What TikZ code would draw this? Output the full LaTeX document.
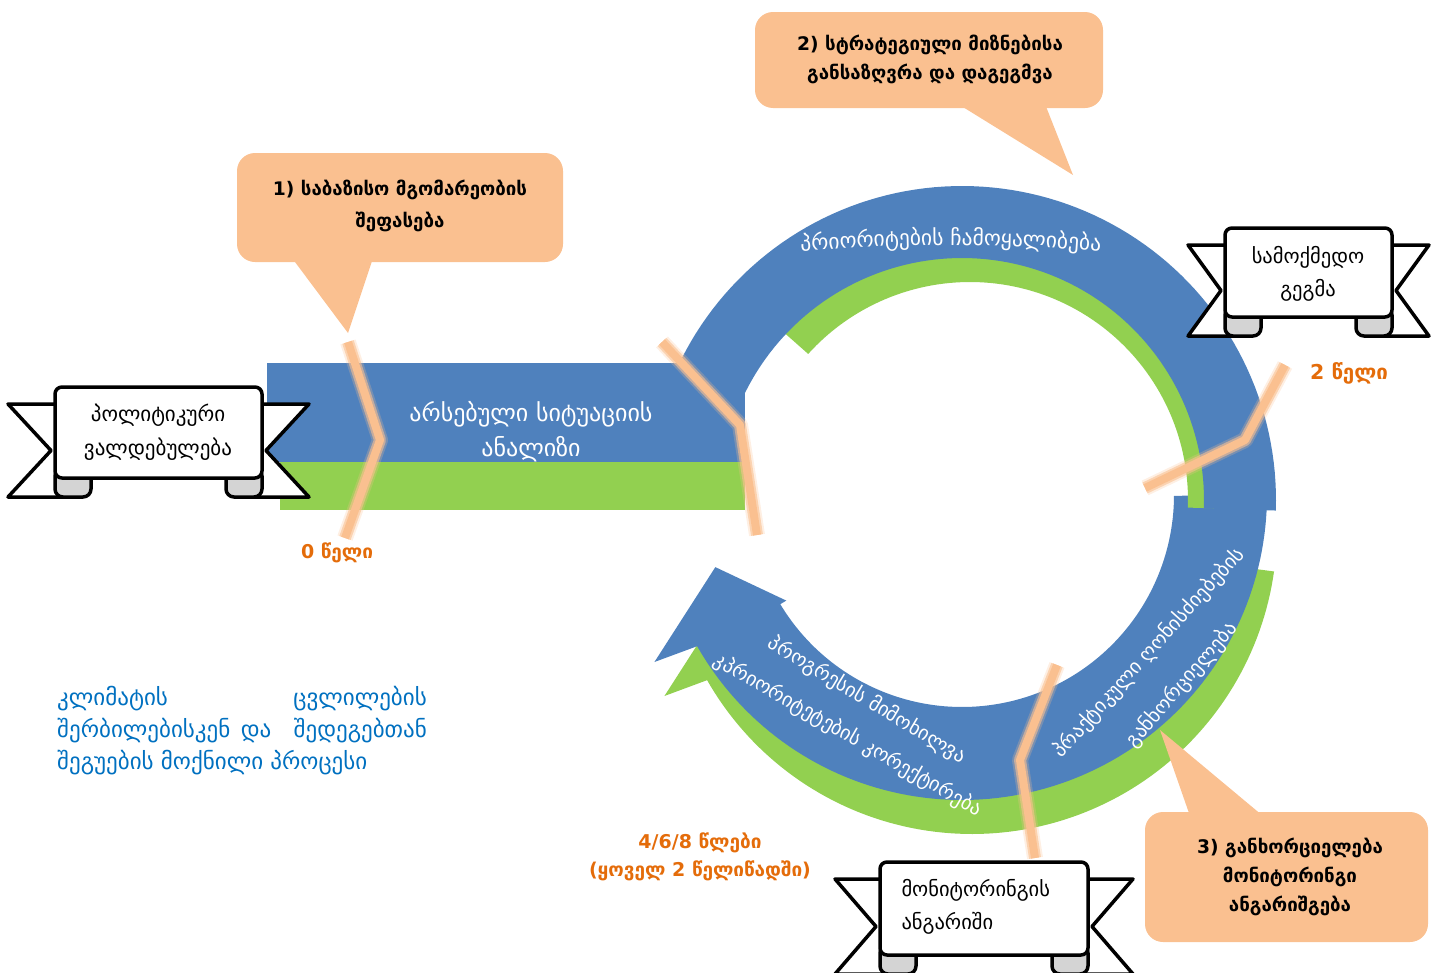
\documentclass[tikz,border=0pt]{standalone}
\usepackage{fontspec}
\setmainfont{DejaVu Sans}
\usetikzlibrary{decorations.text}
\definecolor{cblue}{HTML}{4F81BD}
\definecolor{cgreen}{HTML}{92D050}
\definecolor{cpeach}{HTML}{FAC090}
\definecolor{corange}{HTML}{E46C0A}
\definecolor{ctblue}{HTML}{0070C0}
\definecolor{cfold}{HTML}{D4D4D4}
\tikzset{
  peachline/.style={draw=cpeach, line width=8, line join=round,
    preaction={draw=cpeach, line width=12, opacity=0.6, line join=round},
    preaction={draw=cpeach, line width=16, opacity=0.25, line join=round}},
  callout/.style={fill=cpeach, rounded corners=18},
  ctext/.style={font=\fontsize{18.7}{29}\selectfont\bfseries, align=center, text=black},
  bantext/.style={font=\fontsize{20.5}{33}\selectfont, align=center, text=black},
  wtext/.style={font=\fontsize{24}{35}\selectfont, text=white, align=center},
  arctext/.style={font=\fontsize{20}{20}\selectfont, text=white, inner sep=0},
  otext/.style={font=\fontsize{19}{28}\selectfont\bfseries, text=corange, align=center},
  ptext/.style={font=\fontsize{23}{23}\selectfont, text=ctblue, inner sep=0},
  bandline/.style={draw=black, line width=3.5, line join=round},
}
% x y W H tail
\newcommand\bannershape[5]{%
  \begin{scope}[shift={(#1,#2)}]
    \filldraw[bandline, fill=white] (-#5,17) -- (20,17) -- (20,#4+19) -- (-#5,#4+19) -- (-4,{(36+#4)/2}) -- cycle;
    \filldraw[bandline, fill=white] (#3+#5,17) -- (#3-20,17) -- (#3-20,#4+19) -- (#3+#5,#4+19) -- (#3+4,{(36+#4)/2}) -- cycle;
    \filldraw[bandline, fill=cfold, rounded corners=8] (0,#4-10) rectangle (36,#4+19);
    \filldraw[bandline, fill=cfold, rounded corners=8] (#3-36,#4-10) rectangle (#3,#4+19);
    \filldraw[bandline, fill=white, rounded corners=7] (0,0) rectangle (#3,#4);
  \end{scope}}
% lower arrow: centre (962,495), radii 212/305, start angle #1
\newcommand\lowerarrow[1]{plot[domain=0:1,samples=100] ({962+305*cos(#1+(150.5-#1)*\x)},{495+305*sin(#1+(150.5-#1)*\x)}) -- ({962+350*cos(151.5)},{495+350*sin(151.5)}) -- ({962+257*cos(163.7)},{495+257*sin(163.7)}) -- ({962+205*cos(149)},{495+205*sin(149)}) -- plot[domain=0:1,samples=100] ({962+212*cos(149-(149-#1)*\x)},{495+212*sin(149-(149-#1)*\x)}) -- cycle}
\begin{document}
\begin{tikzpicture}[x=1pt,y=-1pt]
\useasboundingbox (0,0) rectangle (1435,972);
% horizontal bar
\fill[cgreen] (280,462) rectangle (745,510);
\fill[cblue] (267,363) rectangle (745,462);
% lower arrow
\fill[cgreen, shift={(10,34)}] \lowerarrow{8};
\fill[cblue] \lowerarrow{0};
% top arc
\fill[cgreen] plot[domain=0:1,samples=90] ({970+250*cos(222+140*\x)},{500+250*sin(222+140*\x)}) -- plot[domain=0:1,samples=90] ({970+218*cos(362-140*\x)},{500+218*sin(362-140*\x)}) -- cycle;
\fill[cblue] plot[domain=0:1,samples=90] ({962+314*cos(205+157*\x)},{500+314*sin(205+157*\x)}) -- plot[domain=0:1,samples=90] ({962+242*cos(362-157*\x)},{500+242*sin(362-157*\x)}) -- cycle;
% peach cut lines
\draw[peachline] (348,342) -- (380,440) -- (345,538);
\draw[peachline] (662,342) -- (740,425) -- (757,535);
\draw[peachline] (1285,365) -- (1245,440) -- (1145,488);
\draw[peachline] (1057,665) -- (1020,760) -- (1035,858);
% texts on bands
\node[wtext] (bar) at (531,432) {არსებული სიტუაციის\\ანალიზი};
\path[decorate, decoration={text along path, text align=center, text={|\color{white}\fontsize{21.5}{21.5}\selectfont|პრიორიტების ჩამოყალიბება}}]
  plot[domain=0:1,samples=60] ({951+1800*cos(261+18*\x)},{2045+1800*sin(261+18*\x)});
\node[arctext, rotate=-31] (rev1) at (867,700) {პროგრესის მიმოხილვა};
\node[arctext, rotate=-30] (rev2) at (848,735) {კპრიორიტეტების კორექტირება};
\node[arctext, rotate=48] (imp1) at (1149,653) {პრაქტიკული ღონისძიებების};
\node[arctext, rotate=49] (imp2) at (1182,685) {განხორციელება};
% callouts
\fill[callout] (237,153) rectangle (563,262);
\fill[cpeach] (292,258) -- (373,258) -- (348,333) -- cycle;
\node[ctext] (c1) at (400,206) {1) საბაზისო მგომარეობის\\[3pt]შეფასება};
\fill[callout] (755,12) rectangle (1103,108);
\fill[cpeach] (958,104) -- (1045,104) -- (1073,175) -- cycle;
\node[ctext] (c2) at (930,59) {2) სტრატეგიული მიზნებისა\\განსაზღვრა და დაგეგმვა};
\fill[callout] (1145,812) rectangle (1428,942);
\fill[cpeach] (1190,816) -- (1263,816) -- (1160,730) -- cycle;
\node[ctext] (c3) at (1290,877) {3) განხორციელება\\მონიტორინგი\\ანგარიშგება};
% banners
\bannershape{55}{387}{207}{91}{47}
\node[bantext, font=\fontsize{21}{34}\selectfont] (b1) at (158,432) {პოლიტიკური\\ვალდებულება};
\bannershape{1225}{228}{167}{89}{37}
\node[bantext] (b2) at (1308,274) {სამოქმედო\\გეგმა};
\bannershape{880}{862}{208}{93}{45}
\node[bantext, align=left, anchor=west] (b3) at (898,907) {მონიტორინგის\\ანგარიში};
% year labels
\node[otext] (y0) at (337,553) {0 წელი};
\node[otext, font=\fontsize{20.5}{28}\selectfont\bfseries] (y2) at (1349,373) {2 წელი};
\node[otext] (y4) at (700,857) {4/6/8 წლები\\(ყოველ 2 წელიწადში)};
% blue paragraph (justified lines)
\node[ptext, anchor=mid west] (p1a) at (57,703) {კლიმატის};
\node[ptext, anchor=mid east] (p1b) at (427,703) {ცვლილების};
\node[ptext, anchor=mid west] (p2a) at (57,735) {შერბილებისკენ};
\node[ptext, anchor=mid] (p2b) at (256,735) {და};
\node[ptext, anchor=mid east] (p2c) at (427,735) {შედეგებთან};
\node[ptext, anchor=mid west] (p3) at (57,767) {შეგუების მოქნილი პროცესი};
\end{tikzpicture}
\end{document}
